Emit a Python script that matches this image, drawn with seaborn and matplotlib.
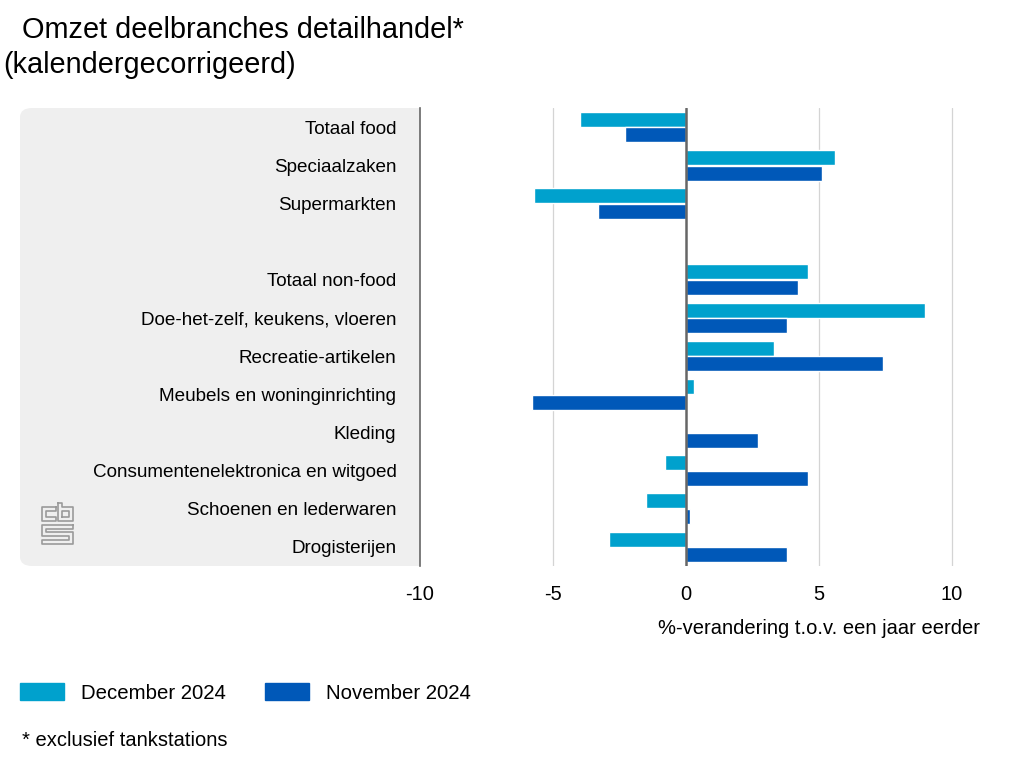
import pandas as pd
import matplotlib.pyplot as plt
import seaborn as sns
from matplotlib.patches import FancyBboxPatch

categories = ["Totaal food", "Speciaalzaken", "Supermarkten", " ",
              "Totaal non-food", "Doe-het-zelf, keukens, vloeren", "Recreatie-artikelen",
              "Meubels en woninginrichting", "Kleding", "Consumentenelektronica en witgoed",
              "Schoenen en lederwaren", "Drogisterijen"]
december = [-4.0, 5.6, -5.7, None, 4.6, 9.0, 3.3, 0.3, 0.0, -0.8, -1.5, -2.9]
november = [-2.3, 5.1, -3.3, None, 4.2, 3.8, 7.4, -5.8, 2.7, 4.6, 0.15, 3.8]
periods = ["December 2024", "November 2024"]
colors = ["#00a1cd", "#0058b8"]
xticks = [-10, -5, 0, 5, 10]

rows = []
for cat, d, n in zip(categories, december, november):
    if d is not None:
        rows.append((cat, periods[0], d))
        rows.append((cat, periods[1], n))
df = pd.DataFrame(rows, columns=["branche", "periode", "waarde"])

sns.set_theme(style="white")
plt.rcParams['font.family'] = ['Liberation Sans', 'DejaVu Sans']
plt.rcParams['text.color'] = 'black'
plt.rcParams['xtick.color'] = 'black'
plt.rcParams['ytick.color'] = 'black'

fig = plt.figure(figsize=(10.24, 7.68), dpi=100)
W, H = 1024, 768
ax = fig.add_axes([420 / W, 1 - 566 / H, 585 / W, 458 / H])
ax.set_zorder(2)

# grey panel behind labels
panel = FancyBboxPatch((20 / W, 1 - 566 / H), 430 / W, 458 / H,
                       boxstyle="round,pad=0,rounding_size=0.012",
                       transform=fig.transFigure, facecolor="#efefef",
                       edgecolor="none", zorder=0)
fig.patches.append(panel)

sns.barplot(data=df, y="branche", x="waarde", hue="periode", order=categories,
            hue_order=periods, palette=colors, width=0.82, gap=0.05,
            orient="h", ax=ax, legend=False, saturation=1)

ax.set_xlim(-10, 12)
ax.set_ylim(11.5, -0.5)
ax.set_xticks(xticks)
ax.set_xticklabels([str(t) for t in xticks], fontsize=14.5)
ax.tick_params(axis="x", length=0, pad=14)
ax.tick_params(axis="y", length=0, pad=17, labelsize=13.6)
ax.set_xlabel("")
ax.set_ylabel("")
for t in [-5, 5, 10]:
    ax.axvline(t, color="#d4d4d4", lw=0.9, zorder=0)
ax.axvline(0, color="#666666", lw=1.8, zorder=3)
for s in ["top", "right", "bottom"]:
    ax.spines[s].set_visible(False)
ax.spines["left"].set_color("#666666")
ax.spines["left"].set_linewidth(1.2)

fig.text(980 / W, 1 - 628 / H, "%-verandering t.o.v. een jaar eerder",
         ha="right", va="center", fontsize=14.5)

fig.text(22 / W, 1 - 30 / H, "Omzet deelbranches detailhandel*",
         ha="left", va="center", fontsize=20.8)
fig.text(3 / W, 1 - 65 / H, "(kalendergecorrigeerd)",
         ha="left", va="center", fontsize=20.8)

handles = [plt.Rectangle((0, 0), 1, 1, color=c) for c in colors]
fig.legend(handles, periods, loc="center left", bbox_to_anchor=(20 / W, 1 - 693 / H),
           ncol=2, frameon=False, fontsize=14.7, handlelength=2.15, handleheight=0.85,
           handletextpad=0.85, columnspacing=1.9, borderpad=0, borderaxespad=0)

fig.text(22 / W, 1 - 740 / H, "* exclusief tankstations",
         ha="left", va="center", fontsize=14.5)

# cbs logo (rough outline)
lg = fig.add_axes([41 / W, 1 - 545 / H, 33 / W, 43 / H])
lg.set_zorder(1)
lg.axis("off")
lg.set_xlim(-1, 33)
lg.set_ylim(-1, 41)
gc = "#9a9a9a"
lg.plot([14, 0, 0, 14, 14, 4, 4, 14, 14], [36, 36, 22, 22, 26, 26, 32, 32, 36], color=gc, lw=1.2)
lg.plot([17, 21, 21, 32, 32, 17, 17], [40, 40, 36, 36, 22, 22, 40], color=gc, lw=1.2)
lg.plot([21, 28, 28, 21, 21], [26, 26, 32, 32, 26], color=gc, lw=1.2)
lg.plot([32, 0, 0, 28, 28, 0, 0, 32, 32, 4, 4, 32, 32],
        [19, 19, 8, 8, 4, 4, 0, 0, 12, 12, 15, 15, 19], color=gc, lw=1.2)

fig.savefig("out.png", dpi=100)
